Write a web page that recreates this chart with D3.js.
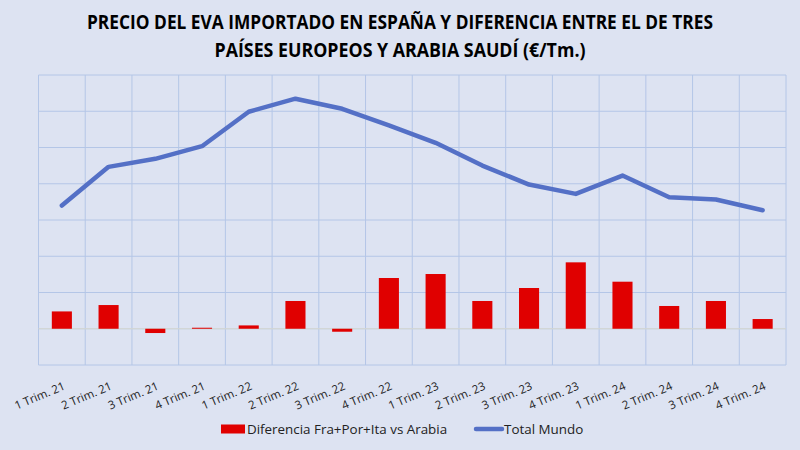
<!DOCTYPE html>
<html>
<head>
<meta charset="utf-8">
<script src="https://cdn.jsdelivr.net/npm/d3@7"></script>
<style>
  body { margin: 0; background: #dde3f2; }
  svg { display: block; font-family: "Open Sans", sans-serif; }
</style>
</head>
<body>
<svg id="chart"></svg>
<script>
// data (€/Tm.)
const quarters = ["1 Trim. 21", "2 Trim. 21", "3 Trim. 21", "4 Trim. 21",
                  "1 Trim. 22", "2 Trim. 22", "3 Trim. 22", "4 Trim. 22",
                  "1 Trim. 23", "2 Trim. 23", "3 Trim. 23", "4 Trim. 23",
                  "1 Trim. 24", "2 Trim. 24", "3 Trim. 24", "4 Trim. 24"];
const diferencia = [239, 327, -59, 14, 46, 383, -41, 700, 755, 383, 562, 916, 649, 314, 383, 134];
const totalMundo = [1699, 2233, 2344, 2518, 2993, 3173, 3034, 2804, 2565, 2251, 1989, 1860, 2113, 1814, 1782, 1634];
const yTicks = [-500, 0, 500, 1000, 1500, 2000, 2500, 3000, 3500];
const titleLines = ["PRECIO DEL EVA IMPORTADO EN ESPAÑA Y DIFERENCIA ENTRE EL DE TRES",
                    "PAÍSES EUROPEOS Y ARABIA SAUDÍ (€/Tm.)"];
const titleWidths = [626, 371];
const seriesNames = ["Diferencia Fra+Por+Ita vs Arabia", "Total Mundo"];

const W = 800, H = 450;
const margin = {top: 75, right: 14, bottom: 85, left: 38.5};
const width = W - margin.left - margin.right;
const height = H - margin.top - margin.bottom;

const svg = d3.select("#chart").attr("width", W).attr("height", H);

svg.append("rect").attr("width", W).attr("height", H).attr("fill", "#dde3f2");

svg.selectAll(".title")
  .data(titleLines)
  .join("text")
  .attr("class", "title")
  .attr("x", W / 2)
  .attr("y", (d, i) => 29 + i * 28)
  .attr("text-anchor", "middle")
  .attr("font-size", 19)
  .attr("font-weight", "bold")
  .attr("fill", "#000")
  .attr("textLength", (d, i) => titleWidths[i])
  .attr("lengthAdjust", "spacingAndGlyphs")
  .text(d => d);

const g = svg.append("g").attr("transform", `translate(${margin.left},${margin.top})`);

const x = d3.scaleBand().domain(quarters).range([0, width]).paddingInner(0.57).paddingOuter(0.285);
const xGrid = d3.scaleBand().domain(quarters).range([0, width]);
const y = d3.scaleLinear().domain([-500, 3500]).range([height, 0]);

// horizontal gridlines
g.selectAll(".hgrid")
  .data(yTicks)
  .join("line")
  .attr("class", "hgrid")
  .attr("x1", 0).attr("x2", width)
  .attr("y1", d => y(d)).attr("y2", d => y(d))
  .attr("stroke", "#b4c6e7")
  .attr("stroke-width", 1);

// vertical gridlines at category boundaries
g.selectAll(".vgrid")
  .data(quarters.concat(["end"]))
  .join("line")
  .attr("class", "vgrid")
  .attr("x1", (d, i) => i < quarters.length ? xGrid(d) : width)
  .attr("x2", (d, i) => i < quarters.length ? xGrid(d) : width)
  .attr("y1", 0).attr("y2", height)
  .attr("stroke", "#b4c6e7")
  .attr("stroke-width", 1);

// zero line
g.append("line")
  .attr("x1", 0).attr("x2", width)
  .attr("y1", y(0)).attr("y2", y(0))
  .attr("stroke", "#d9d9cf")
  .attr("stroke-width", 1);

// bars
g.selectAll(".bar")
  .data(diferencia)
  .join("rect")
  .attr("class", "bar")
  .attr("x", (d, i) => x(quarters[i]))
  .attr("width", x.bandwidth())
  .attr("y", d => y(Math.max(0, d)))
  .attr("height", d => Math.abs(y(d) - y(0)))
  .attr("fill", "#e00000");

// line
const line = d3.line()
  .x((d, i) => xGrid(quarters[i]) + xGrid.bandwidth() / 2)
  .y(d => y(d));

g.append("path")
  .datum(totalMundo)
  .attr("fill", "none")
  .attr("stroke", "#5470c6")
  .attr("stroke-width", 4.5)
  .attr("stroke-linejoin", "round")
  .attr("stroke-linecap", "round")
  .attr("d", line);

// x axis labels
const xAxis = d3.axisBottom(xGrid).tickSize(0).tickPadding(0);
const xAxisG = g.append("g").attr("transform", `translate(0,${height})`).call(xAxis);
xAxisG.select(".domain").remove();
xAxisG.selectAll("text")
  .attr("font-family", "\"Open Sans\", sans-serif")
  .attr("font-size", 11.5)
  .attr("fill", "#222")
  .attr("text-anchor", "end")
  .attr("dy", null)
  .attr("y", 0)
  .attr("transform", "translate(4,24) rotate(-23)");

// legend
const legend = svg.append("g").attr("transform", "translate(221,429)");
legend.append("rect").attr("x", 0).attr("y", -4.5).attr("width", 24).attr("height", 9).attr("fill", "#e00000");
legend.append("text").attr("x", 26).attr("y", 5).attr("font-size", 13.4).attr("fill", "#222").text(seriesNames[0]);
legend.append("line").attr("x1", 255).attr("x2", 281).attr("y1", 0).attr("y2", 0)
  .attr("stroke", "#5470c6").attr("stroke-width", 4.5).attr("stroke-linecap", "round");
legend.append("text").attr("x", 283).attr("y", 5).attr("font-size", 13.4).attr("fill", "#222").text(seriesNames[1]);
</script>
</body>
</html>
